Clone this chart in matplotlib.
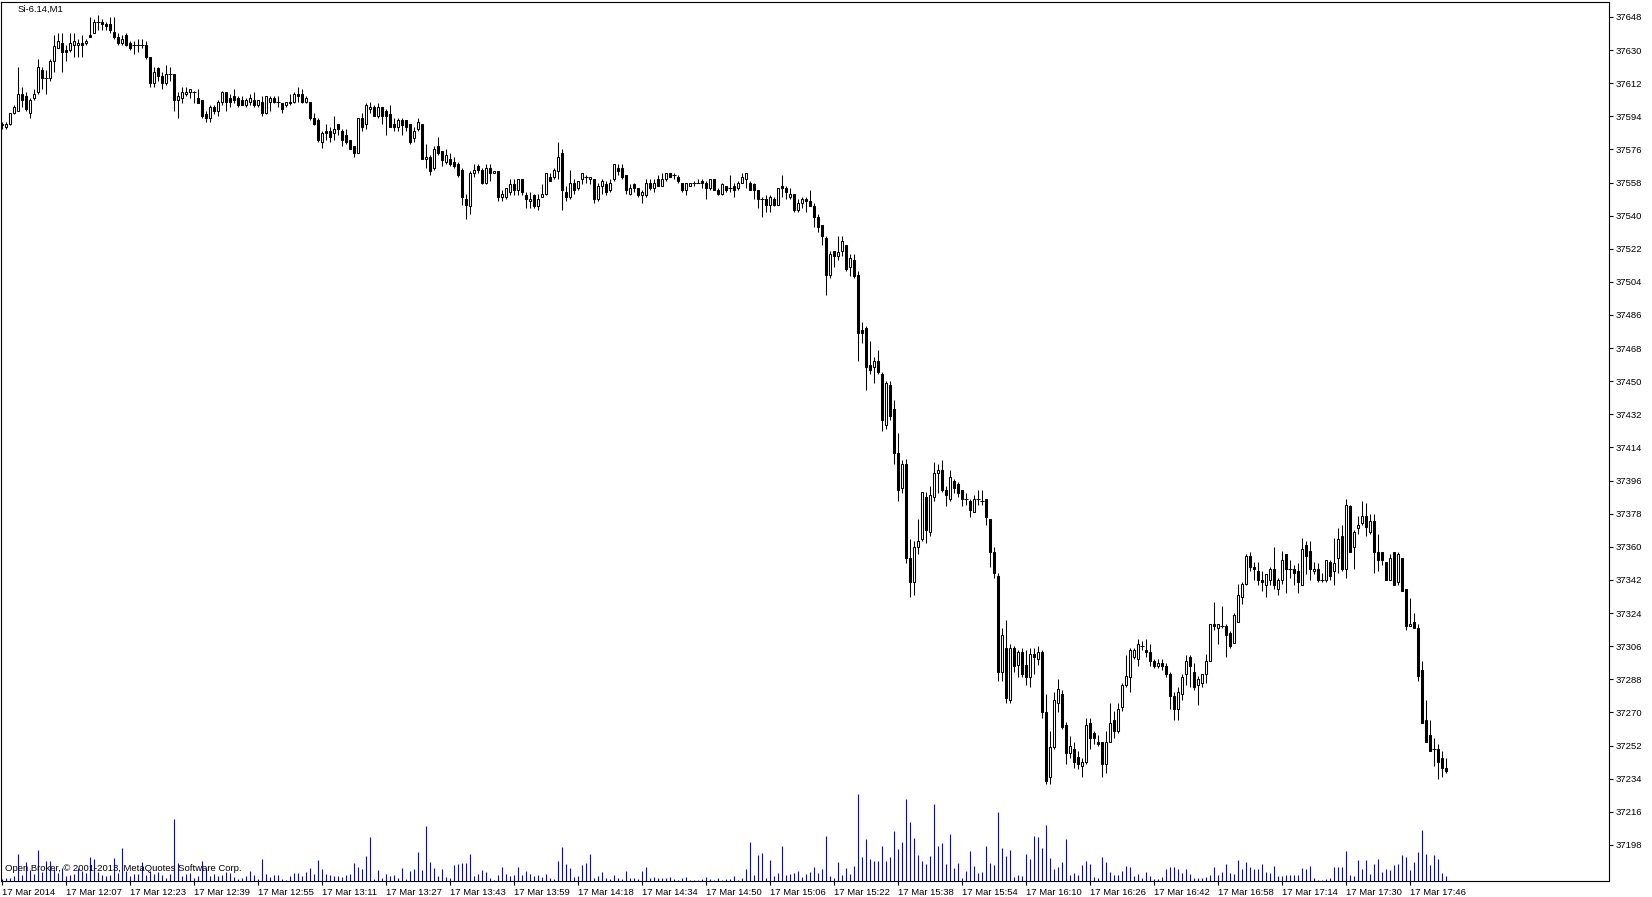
"""
plot.py

Grafico de velas M1 (Si-6.14) no estilo MetaTrader, com volumes em azul.
"""
import numpy as np
import matplotlib
matplotlib.use("Agg")
import matplotlib.pyplot as plt
from matplotlib.patches import Rectangle

# ======================================================================
SYMBOL = "Si-6.14,M1"
COPYRIGHT = "Open Broker, \u00a9 2001-2013, MetaQuotes Software Corp."
OUT_PATH = "out.png"
# ======================================================================

TIME_LABELS = [
    "17 Mar 2014", "17 Mar 12:07", "17 Mar 12:23", "17 Mar 12:39", "17 Mar 12:55",
    "17 Mar 13:11", "17 Mar 13:27", "17 Mar 13:43", "17 Mar 13:59", "17 Mar 14:18",
    "17 Mar 14:34", "17 Mar 14:50", "17 Mar 15:06", "17 Mar 15:22", "17 Mar 15:38",
    "17 Mar 15:54", "17 Mar 16:10", "17 Mar 16:26", "17 Mar 16:42", "17 Mar 16:58",
    "17 Mar 17:14", "17 Mar 17:30", "17 Mar 17:46",
]
LABEL_STEP = 16  # uma etiqueta a cada 16 barras

PRICE_TICKS = [37198, 37216, 37234, 37252, 37270, 37288, 37306, 37324, 37342, 37360,
               37378, 37396, 37414, 37432, 37450, 37468, 37486, 37504, 37522, 37540,
               37558, 37576, 37594, 37612, 37630, 37648]

OPENS = [
    37589, 37588, 37590, 37596, 37597, 37606, 37605, 37596, 37604, 37607,
    37619, 37615, 37615, 37624, 37631, 37634, 37630, 37630, 37633, 37633,
    37634, 37634, 37638, 37639, 37645, 37645, 37644, 37644, 37640, 37637,
    37634, 37638, 37634, 37633, 37633, 37633, 37633, 37626, 37612, 37620,
    37616, 37612, 37617, 37617, 37603, 37604, 37606, 37607, 37607, 37604,
    37603, 37595, 37593, 37599, 37597, 37602, 37607, 37604, 37605, 37604,
    37603, 37600, 37602, 37603, 37600, 37602, 37596, 37602, 37604, 37602,
    37601, 37600, 37602, 37602, 37606, 37606, 37602, 37602, 37593, 37592,
    37580, 37586, 37586, 37585, 37590, 37586, 37584, 37581, 37578, 37574,
    37593, 37590, 37598, 37599, 37594, 37599, 37597, 37595, 37590, 37588,
    37592, 37592, 37590, 37582, 37587, 37590, 37571, 37572, 37566, 37578,
    37575, 37569, 37571, 37569, 37568, 37565, 37549, 37545, 37563, 37567,
    37565, 37558, 37566, 37563, 37564, 37550, 37550, 37553, 37557, 37554,
    37560, 37551, 37548, 37551, 37545, 37550, 37552, 37561, 37561, 37564,
    37574, 37553, 37550, 37558, 37555, 37560, 37561, 37560, 37560, 37549,
    37556, 37557, 37554, 37560, 37566, 37566, 37562, 37552, 37557, 37555,
    37551, 37551, 37558, 37555, 37560, 37556, 37560, 37563, 37562, 37561,
    37558, 37554, 37556, 37558, 37558, 37559, 37558, 37555, 37560, 37554,
    37552, 37556, 37555, 37556, 37555, 37558, 37560, 37558, 37557, 37554,
    37549, 37549, 37546, 37549, 37546, 37556, 37555, 37550, 37552, 37543,
    37547, 37549, 37548, 37545, 37539, 37535, 37528, 37508, 37521, 37518,
    37521, 37524, 37512, 37516, 37508, 37478, 37479, 37459, 37458, 37461,
    37454, 37426, 37448, 37435, 37411, 37392, 37405, 37354, 37341, 37360,
    37364, 37387, 37368, 37387, 37400, 37402, 37391, 37386, 37396, 37394,
    37391, 37386, 37385, 37379, 37386, 37385, 37386, 37375, 37357, 37344,
    37292, 37305, 37277, 37305, 37296, 37303, 37296, 37289, 37302, 37299,
    37303, 37270, 37235, 37251, 37275, 37280, 37263, 37248, 37250, 37246,
    37241, 37243, 37264, 37259, 37254, 37254, 37242, 37254, 37266, 37260,
    37273, 37285, 37289, 37300, 37299, 37306, 37304, 37303, 37298, 37295,
    37297, 37295, 37291, 37279, 37272, 37280, 37291, 37300, 37292, 37285,
    37286, 37291, 37298, 37318, 37316, 37317, 37317, 37313, 37308, 37319,
    37333, 37340, 37355, 37349, 37347, 37342, 37339, 37342, 37348, 37337,
    37342, 37356, 37348, 37348, 37347, 37339, 37361, 37358, 37347, 37348,
    37342, 37342, 37352, 37347, 37354, 37366, 37348, 37382, 37360, 37370,
    37373, 37377, 37368, 37374, 37357, 37357, 37352, 37342, 37357, 37341,
    37354, 37337, 37317, 37319, 37316, 37293, 37266, 37258, 37250, 37250,
    37245, 37240,
]
HIGHS = [
    37591, 37591, 37596, 37600, 37621, 37610, 37607, 37604, 37609, 37625,
    37621, 37619, 37625, 37638, 37639, 37639, 37633, 37639, 37639, 37636,
    37638, 37636, 37648, 37647, 37649, 37647, 37645, 37648, 37648, 37639,
    37638, 37639, 37635, 37635, 37636, 37636, 37635, 37626, 37621, 37621,
    37618, 37622, 37621, 37617, 37607, 37610, 37610, 37609, 37608, 37609,
    37603, 37597, 37600, 37600, 37603, 37608, 37607, 37606, 37609, 37605,
    37605, 37604, 37606, 37607, 37603, 37605, 37605, 37605, 37605, 37605,
    37601, 37602, 37606, 37607, 37610, 37609, 37605, 37602, 37596, 37593,
    37586, 37590, 37588, 37594, 37590, 37587, 37587, 37581, 37578, 37593,
    37596, 37601, 37602, 37600, 37601, 37599, 37598, 37600, 37593, 37593,
    37593, 37592, 37590, 37588, 37593, 37590, 37579, 37573, 37578, 37583,
    37575, 37576, 37574, 37572, 37569, 37566, 37552, 37564, 37568, 37568,
    37566, 37568, 37568, 37564, 37564, 37554, 37555, 37560, 37560, 37560,
    37560, 37553, 37553, 37552, 37552, 37557, 37563, 37563, 37566, 37580,
    37576, 37556, 37565, 37560, 37559, 37563, 37562, 37561, 37560, 37558,
    37560, 37559, 37560, 37568, 37568, 37568, 37562, 37557, 37558, 37555,
    37554, 37560, 37560, 37560, 37562, 37563, 37563, 37563, 37563, 37562,
    37558, 37558, 37558, 37559, 37560, 37560, 37559, 37560, 37560, 37555,
    37558, 37556, 37562, 37558, 37559, 37563, 37563, 37559, 37558, 37554,
    37550, 37551, 37551, 37550, 37555, 37562, 37556, 37555, 37552, 37549,
    37550, 37550, 37554, 37547, 37541, 37535, 37529, 37521, 37521, 37529,
    37529, 37524, 37519, 37519, 37510, 37482, 37480, 37472, 37463, 37467,
    37455, 37450, 37450, 37440, 37422, 37407, 37408, 37364, 37363, 37375,
    37390, 37390, 37393, 37406, 37405, 37407, 37393, 37402, 37397, 37395,
    37391, 37389, 37386, 37388, 37391, 37391, 37386, 37375, 37360, 37346,
    37316, 37320, 37307, 37306, 37304, 37305, 37304, 37305, 37305, 37306,
    37304, 37280, 37260, 37281, 37288, 37282, 37265, 37257, 37254, 37249,
    37245, 37267, 37267, 37260, 37258, 37254, 37260, 37275, 37271, 37275,
    37286, 37301, 37305, 37305, 37310, 37309, 37310, 37307, 37299, 37299,
    37299, 37297, 37292, 37281, 37284, 37291, 37301, 37301, 37297, 37290,
    37291, 37302, 37318, 37330, 37318, 37328, 37318, 37314, 37324, 37340,
    37341, 37356, 37357, 37352, 37352, 37347, 37345, 37349, 37360, 37343,
    37358, 37356, 37353, 37350, 37351, 37365, 37363, 37363, 37352, 37351,
    37346, 37353, 37353, 37365, 37370, 37372, 37386, 37383, 37369, 37377,
    37385, 37384, 37378, 37378, 37367, 37357, 37352, 37356, 37357, 37357,
    37354, 37337, 37332, 37324, 37318, 37298, 37277, 37266, 37256, 37253,
    37249, 37245,
]
LOWS = [
    37587, 37587, 37589, 37595, 37597, 37599, 37597, 37593, 37603, 37606,
    37609, 37606, 37613, 37618, 37631, 37618, 37624, 37629, 37626, 37626,
    37626, 37633, 37637, 37639, 37641, 37641, 37641, 37639, 37636, 37633,
    37633, 37632, 37630, 37628, 37629, 37631, 37625, 37610, 37610, 37613,
    37609, 37611, 37613, 37597, 37593, 37601, 37605, 37604, 37601, 37601,
    37593, 37591, 37591, 37595, 37594, 37600, 37597, 37599, 37601, 37599,
    37600, 37599, 37600, 37599, 37599, 37594, 37595, 37597, 37601, 37599,
    37596, 37599, 37600, 37601, 37602, 37601, 37601, 37592, 37589, 37580,
    37577, 37581, 37580, 37581, 37584, 37578, 37579, 37576, 37572, 37574,
    37586, 37587, 37596, 37594, 37593, 37590, 37584, 37588, 37586, 37586,
    37584, 37586, 37579, 37580, 37586, 37571, 37566, 37562, 37565, 37573,
    37567, 37568, 37567, 37566, 37561, 37546, 37538, 37541, 37561, 37563,
    37557, 37557, 37559, 37563, 37548, 37548, 37549, 37551, 37551, 37551,
    37551, 37544, 37544, 37544, 37543, 37550, 37551, 37559, 37560, 37560,
    37543, 37548, 37549, 37552, 37554, 37557, 37558, 37557, 37547, 37548,
    37552, 37551, 37553, 37559, 37562, 37560, 37552, 37551, 37553, 37550,
    37547, 37550, 37554, 37553, 37556, 37556, 37559, 37561, 37560, 37558,
    37553, 37551, 37556, 37556, 37558, 37555, 37549, 37554, 37554, 37551,
    37551, 37553, 37553, 37550, 37554, 37558, 37555, 37554, 37549, 37544,
    37539, 37542, 37542, 37545, 37546, 37550, 37549, 37549, 37542, 37542,
    37544, 37542, 37545, 37534, 37531, 37524, 37497, 37506, 37512, 37516,
    37518, 37510, 37507, 37506, 37461, 37471, 37445, 37454, 37449, 37454,
    37423, 37424, 37429, 37405, 37385, 37389, 37351, 37333, 37334, 37356,
    37363, 37362, 37366, 37385, 37389, 37390, 37382, 37385, 37389, 37387,
    37382, 37383, 37376, 37379, 37383, 37383, 37372, 37349, 37343, 37287,
    37287, 37275, 37275, 37292, 37289, 37289, 37285, 37284, 37291, 37296,
    37267, 37231, 37231, 37250, 37270, 37261, 37242, 37245, 37240, 37239,
    37235, 37242, 37250, 37253, 37252, 37235, 37237, 37254, 37256, 37259,
    37271, 37284, 37281, 37299, 37295, 37304, 37300, 37295, 37294, 37294,
    37293, 37289, 37272, 37266, 37266, 37277, 37285, 37284, 37282, 37274,
    37284, 37286, 37298, 37315, 37307, 37316, 37300, 37305, 37308, 37319,
    37329, 37339, 37347, 37342, 37339, 37336, 37333, 37339, 37337, 37334,
    37340, 37335, 37343, 37339, 37335, 37339, 37345, 37342, 37345, 37341,
    37341, 37341, 37342, 37339, 37346, 37347, 37343, 37357, 37348, 37367,
    37372, 37366, 37367, 37346, 37347, 37350, 37342, 37342, 37339, 37339,
    37336, 37315, 37317, 37316, 37287, 37264, 37254, 37249, 37241, 37234,
    37235, 37237,
]
CLOSES = [
    37590, 37590, 37596, 37599, 37606, 37603, 37598, 37603, 37606, 37621,
    37615, 37615, 37624, 37632, 37635, 37629, 37629, 37634, 37635, 37634,
    37633, 37635, 37637, 37645, 37645, 37644, 37643, 37641, 37637, 37634,
    37636, 37633, 37631, 37633, 37633, 37633, 37626, 37612, 37618, 37616,
    37612, 37617, 37617, 37603, 37605, 37607, 37607, 37609, 37607, 37601,
    37594, 37593, 37599, 37597, 37602, 37607, 37602, 37602, 37603, 37600,
    37600, 37603, 37604, 37600, 37603, 37596, 37605, 37604, 37602, 37602,
    37598, 37602, 37601, 37606, 37605, 37602, 37604, 37593, 37590, 37581,
    37585, 37585, 37583, 37587, 37587, 37581, 37580, 37576, 37574, 37593,
    37588, 37600, 37599, 37594, 37599, 37594, 37594, 37588, 37588, 37592,
    37589, 37588, 37580, 37586, 37591, 37571, 37572, 37564, 37576, 37574,
    37570, 37573, 37568, 37567, 37562, 37550, 37546, 37563, 37565, 37565,
    37558, 37566, 37563, 37564, 37550, 37552, 37555, 37557, 37554, 37560,
    37553, 37549, 37549, 37545, 37549, 37552, 37563, 37559, 37565, 37572,
    37554, 37550, 37558, 37554, 37559, 37563, 37561, 37561, 37549, 37556,
    37559, 37553, 37558, 37568, 37564, 37561, 37554, 37555, 37555, 37551,
    37553, 37558, 37555, 37558, 37556, 37560, 37563, 37561, 37562, 37559,
    37554, 37558, 37558, 37558, 37558, 37558, 37555, 37560, 37554, 37552,
    37557, 37554, 37555, 37554, 37558, 37561, 37563, 37554, 37554, 37549,
    37549, 37546, 37550, 37546, 37555, 37555, 37553, 37552, 37543, 37547,
    37549, 37548, 37545, 37539, 37534, 37529, 37508, 37519, 37518, 37520,
    37526, 37511, 37517, 37507, 37476, 37476, 37458, 37456, 37461, 37455,
    37429, 37449, 37431, 37411, 37391, 37405, 37354, 37341, 37360, 37363,
    37390, 37369, 37388, 37400, 37402, 37391, 37388, 37398, 37392, 37389,
    37386, 37386, 37380, 37386, 37386, 37385, 37376, 37357, 37346, 37292,
    37312, 37278, 37305, 37295, 37303, 37291, 37289, 37302, 37300, 37303,
    37270, 37233, 37251, 37277, 37283, 37262, 37248, 37252, 37243, 37242,
    37243, 37263, 37256, 37256, 37253, 37242, 37254, 37264, 37260, 37272,
    37285, 37290, 37304, 37304, 37307, 37306, 37303, 37298, 37295, 37297,
    37295, 37291, 37279, 37272, 37281, 37289, 37298, 37295, 37284, 37288,
    37291, 37298, 37318, 37317, 37318, 37317, 37312, 37306, 37323, 37334,
    37340, 37355, 37349, 37348, 37342, 37341, 37345, 37348, 37339, 37342,
    37353, 37348, 37348, 37346, 37341, 37359, 37355, 37348, 37348, 37342,
    37342, 37353, 37344, 37351, 37364, 37348, 37383, 37357, 37368, 37372,
    37377, 37371, 37374, 37357, 37353, 37353, 37342, 37354, 37339, 37356,
    37336, 37317, 37318, 37316, 37290, 37264, 37254, 37249, 37250, 37243,
    37240, 37238,
]
VOLUMES = [
    5, 8, 10, 15, 82, 18, 58, 32, 22, 93,
    28, 60, 60, 35, 25, 40, 15, 18, 20, 38,
    30, 25, 72, 66, 28, 18, 15, 18, 70, 25,
    100, 30, 15, 20, 22, 58, 18, 30, 20, 28,
    18, 8, 20, 187, 55, 15, 20, 24, 8, 15,
    60, 38, 15, 20, 15, 18, 28, 25, 12, 5,
    8, 15, 30, 18, 5, 67, 20, 12, 18, 18,
    5, 4, 15, 25, 25, 15, 28, 38, 22, 63,
    37, 20, 18, 15, 15, 13, 18, 22, 55, 42,
    37, 75, 132, 5, 33, 10, 20, 15, 18, 8,
    40, 5, 30, 35, 87, 33, 165, 57, 38, 15,
    35, 12, 8, 48, 52, 55, 55, 82, 15, 20,
    33, 28, 8, 4, 18, 42, 20, 15, 18, 42,
    18, 30, 22, 15, 18, 12, 20, 10, 7, 60,
    102, 50, 38, 12, 15, 48, 55, 81, 10, 15,
    28, 10, 5, 18, 8, 5, 30, 8, 10, 5,
    30, 42, 10, 12, 8, 10, 8, 12, 5, 4,
    8, 12, 4, 3, 4, 5, 12, 5, 4, 10,
    4, 5, 5, 15, 2, 10, 37, 118, 18, 78,
    85, 10, 63, 15, 24, 105, 18, 22, 24, 30,
    12, 20, 28, 42, 24, 37, 135, 15, 10, 58,
    18, 40, 22, 45, 262, 72, 125, 67, 60, 60,
    105, 60, 72, 150, 96, 117, 247, 178, 130, 78,
    60, 52, 75, 232, 105, 115, 52, 142, 38, 55,
    10, 30, 90, 45, 25, 28, 105, 55, 48, 207,
    98, 75, 93, 12, 18, 15, 82, 67, 135, 132,
    98, 168, 68, 35, 42, 57, 125, 18, 24, 18,
    48, 60, 52, 12, 10, 72, 57, 27, 18, 18,
    30, 45, 42, 15, 20, 8, 27, 15, 5, 5,
    12, 35, 42, 42, 35, 24, 35, 20, 8, 8,
    8, 12, 18, 42, 18, 27, 51, 24, 20, 63,
    35, 57, 42, 35, 35, 51, 27, 24, 45, 15,
    15, 18, 18, 18, 18, 38, 35, 45, 8, 4,
    2, 5, 8, 42, 42, 42, 90, 18, 15, 63,
    35, 63, 21, 51, 66, 27, 35, 33, 48, 51,
    78, 72, 33, 57, 87, 153, 81, 48, 78, 66,
    24, 15,
]

# ----------------------------------------------------------------------
FIG_W, FIG_H = 1652, 897
FONT = ["Liberation Sans", "DejaVu Sans"]
FS = 6.8


def draw_candles(ax, opens, highs, lows, closes, body_w=0.5):
    """Desenha velas no estilo MT4: alta branca, baixa preta."""
    x = np.arange(len(opens))
    ax.vlines(x, lows, highs, color="black", lw=0.75, zorder=2)
    for i, (o, c) in enumerate(zip(opens, closes)):
        lo, hi = min(o, c), max(o, c)
        if hi == lo:
            ax.hlines(o, i - 0.4, i + 0.4, color="black", lw=0.75, zorder=3)
            continue
        face = "white" if c > o else "black"
        ax.add_patch(Rectangle((i - body_w / 2, lo), body_w, hi - lo,
                               facecolor=face, edgecolor="black",
                               lw=0.75, zorder=3))


def main():
    plt.rcParams["font.family"] = FONT
    fig = plt.figure(figsize=(FIG_W / 100, FIG_H / 100), dpi=100)
    fig.patch.set_facecolor("white")

    # area do grafico: x 1..1609 px, y 2..881 px (a partir do topo)
    ax = fig.add_axes([1 / FIG_W, (FIG_H - 881) / FIG_H, 1608 / FIG_W, 879 / FIG_H])
    ax.set_xlim(-0.25, 401.75)
    ax.set_ylim(37178.4, 37656.1)

    # volumes (eixo gemeo, base no fundo do grafico)
    axv = ax.twinx()
    axv.set_ylim(0, 879 * 3)
    axv.set_yticks([])
    axv.vlines(np.arange(len(VOLUMES)), 0, VOLUMES, color="#0000ff", lw=0.8)
    for sp in axv.spines.values():
        sp.set_visible(False)

    ax.set_zorder(axv.get_zorder() + 1)
    ax.patch.set_visible(False)

    draw_candles(ax, OPENS, HIGHS, LOWS, CLOSES)

    # eixo de precos a direita
    ax.yaxis.tick_right()
    ax.set_yticks(PRICE_TICKS)
    ax.set_yticklabels([str(p) for p in PRICE_TICKS], fontsize=FS)
    ax.tick_params(axis="y", direction="out", length=3, width=0.8, pad=2)

    # eixo de tempo
    xt = [i * LABEL_STEP for i in range(len(TIME_LABELS))]
    ax.set_xticks(xt)
    ax.set_xticklabels(TIME_LABELS, fontsize=FS, ha="left")
    ax.tick_params(axis="x", direction="out", length=3, width=0.8, pad=2)

    for sp in ax.spines.values():
        sp.set_color("black")
        sp.set_linewidth(0.8)

    fig.text(18 / FIG_W, 1 - 9 / FIG_H, SYMBOL, fontsize=FS, va="center", ha="left")
    ax.text(4 / 1608, (881 - 868) / 879, COPYRIGHT, transform=ax.transAxes,
            fontsize=FS, va="center", ha="left", zorder=5)

    fig.savefig(OUT_PATH, dpi=100, facecolor="white")
    plt.close(fig)


if __name__ == "__main__":
    main()
